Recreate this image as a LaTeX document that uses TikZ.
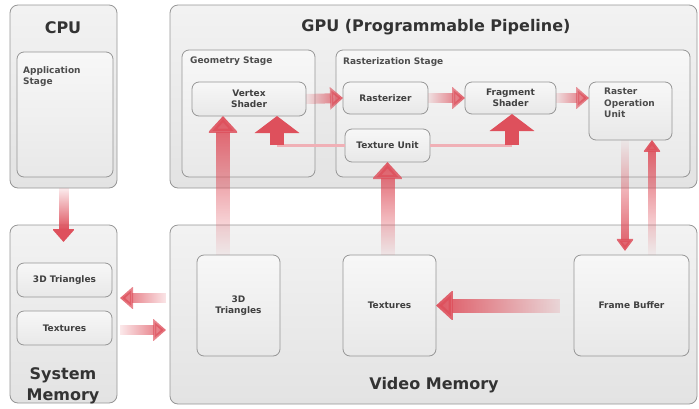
\documentclass[tikz,border=0pt]{standalone}
\usepackage{fontspec}
\setmainfont{DejaVu Sans}
\usetikzlibrary{arrows.meta,fadings,calc}
\definecolor{arr}{RGB}{222,80,92}
\definecolor{boxline}{RGB}{150,150,150}
\tikzset{
  box/.style={draw=boxline, line width=0.8pt, rounded corners=8pt, top color=black!5, bottom color=black!11, inner sep=0pt, outer sep=0pt, font=\fontsize{9}{11.5}\selectfont\bfseries, text=black!75, align=center},
  ibox/.style={box, rounded corners=7pt, top color=black!3, bottom color=black!9},
  title/.style={font=\fontsize{16}{21}\selectfont\bfseries, text=black!80, align=center},
  small/.style={font=\fontsize{9}{11.5}\selectfont\bfseries, text=black!70, anchor=north west, align=left, inner sep=0pt},
  bigarrow/.style={draw=arr, line width=14pt, -{Triangle[width=30pt,length=17pt]}},
  midarrow/.style={draw=arr, line width=10pt, -{Triangle[width=22pt,length=13pt]}},
  thinarrow/.style={draw=arr, line width=8pt, -{Triangle[width=17pt,length=12pt]}},
  feed/.style={draw=arr!45, line width=3pt},
}
\newcommand{\bx}[7]{\node[#1, minimum width={#5-#3}, minimum height={#6-#4}] (#2) at ({(#3+#5)/2},{(#4+#6)/2}) {#7};}
\begin{document}
\begin{tikzpicture}[x=1pt,y=-1pt]
\useasboundingbox (0,0) rectangle (699,408);
% outer boxes
\bx{box}{cpu}{10}{5}{117}{188}{}
\bx{box}{sysmem}{10}{225}{117}{403}{}
\bx{box}{gpu}{170}{5}{697}{188}{}
\bx{box}{vidmem}{170}{225}{697}{404}{}
% titles
\node[title] (cputitle) at (63,28) {CPU};
\node[title] (systitle) at (63,386) {System\\Memory};
\node[title] (gputitle) at (436,27) {GPU (Programmable Pipeline)};
\node[title] (vidtitle) at (434,385) {Video Memory};
% CPU inner
\bx{ibox}{app}{17}{52}{113}{177}{}
\node[small] (applbl) at (23,66) {Application\\Stage};
% system memory inner
\bx{ibox}{smtri}{17}{263}{112}{297}{3D Triangles}
\bx{ibox}{smtex}{17}{311}{112}{345}{Textures}
% GPU stages
\bx{ibox}{geo}{182}{50}{315}{177}{}
\node[small] (geolbl) at (190,57) {Geometry Stage};
\bx{ibox}{ras}{336}{50}{690}{177}{}
\node[small] (raslbl) at (343,57) {Rasterization Stage};
\bx{ibox}{vs}{192}{82}{306}{116}{Vertex\\Shader}
\bx{ibox}{rz}{343}{82}{428}{114}{Rasterizer}
\bx{ibox}{fs}{465}{82}{556}{114}{Fragment\\Shader}
\bx{ibox}{rop}{589}{82}{672}{140}{}
\node[small] (roplbl) at (604,88) {Raster\\Operation\\Unit};
\bx{ibox}{tu}{345}{129}{430}{162}{Texture Unit}
% video memory inner
\bx{ibox}{vtri}{197}{255}{280}{356}{3D\\Triangles}
\bx{ibox}{vtex}{343}{255}{436}{356}{Textures}
\bx{ibox}{fb}{574}{255}{689}{356}{Frame Buffer}
% coordinates for texture feed
\coordinate (fl) at (277,145);
\coordinate (fr) at (512,145);
% arrows
\draw[midarrow, path fading=north, shorten >=-17pt] (cpu.south) -- (cpu.south |- sysmem.north);
\draw[bigarrow, path fading=south] (vtri.north -| 223,0) -- (vs.south -| 223,0);
\draw[bigarrow, path fading=south] (vtex.north -| tu.south) -- (tu.south);
\draw[feed] (tu.west |- fl) -- (fl);
\draw[feed] (tu.east |- fr) -- (fr);
\draw[midarrow, line width=14pt, -{Triangle[width=44pt,length=17pt]}] (fl) -- (vs.south -| fl);
\draw[midarrow, line width=14pt, -{Triangle[width=44pt,length=17pt]}] (fr) -- (fs.south -| fr);
\draw[midarrow, path fading=west] (vs.east) -- (rz.west);
\draw[midarrow, path fading=west] (rz.east) -- (fs.west);
\draw[midarrow, path fading=west] (fs.east) -- (rop.west |- fs.east);
\draw[thinarrow, path fading=north, shorten >=4pt] (rop.south -| 625,0) -- (fb.north -| 625,0);
\draw[thinarrow, path fading=south] (fb.north -| 652,0) -- (rop.south -| 652,0);
\draw[bigarrow, path fading=east, shorten <=14pt] (fb.west) -- (vtex.east);
\draw[midarrow, path fading=east, shorten >=3pt, shorten <=4pt] (vidmem.west |- 0,298) -- (sysmem.east |- 0,298);
\draw[midarrow, path fading=west, shorten >=4pt, shorten <=3pt] (sysmem.east |- 0,330) -- (vidmem.west |- 0,330);
\end{tikzpicture}
\end{document}
